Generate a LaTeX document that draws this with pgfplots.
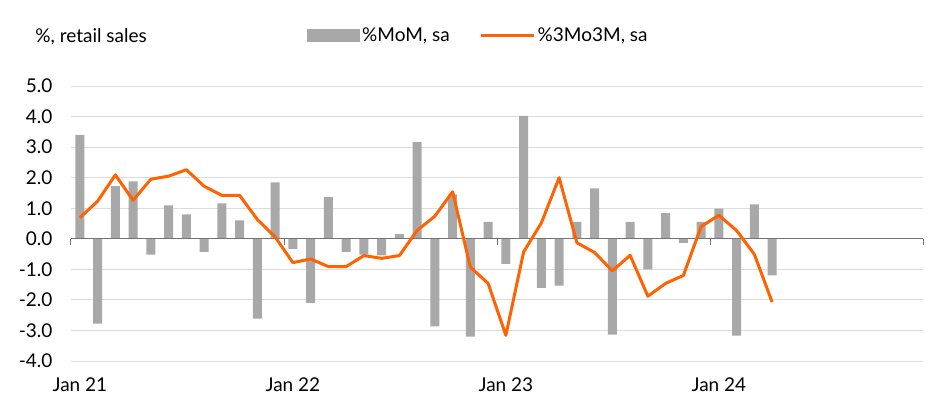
\documentclass[border=0pt]{standalone}
\usepackage{pgfplots}
\pgfplotsset{compat=1.18}
\usepackage{fontspec}
\setmainfont{Lato}
\definecolor{inggray}{HTML}{A8A8A8}
\definecolor{ingorange}{HTML}{FF6200}
\definecolor{gridgray}{HTML}{DCDCDC}
\begin{document}
\begin{tikzpicture}
\fontsize{19bp}{22bp}\selectfont
\begin{axis}[
  at={(0,0)}, anchor=south west,
  scale only axis, width=852bp, height=275bp,
  xmin=-0.5, xmax=47.5, ymin=-4, ymax=5,
  axis line style={draw=none},
  ytick={-4,-3,-2,-1,0,1,2,3,4,5},
  yticklabels={-4.0,-3.0,-2.0,-1.0,0.0,1.0,2.0,3.0,4.0,5.0},
  ymajorgrids, grid style={gridgray, line width=1bp},
  major tick length=0pt,
  xtick={0,12,24,36}, xticklabels={Jan 21,Jan 22,Jan 23,Jan 24},
  xticklabel style={font=\fontsize{19bp}{22bp}\selectfont, anchor=north, yshift=-10bp},
  yticklabel style={font=\fontsize{19bp}{22bp}\selectfont, anchor=east, xshift=-12bp},
  clip=false,
  legend style={at={(236bp,325bp)}, anchor=west, draw=none, fill=none,
    legend columns=2, inner sep=0pt,
    font=\fontsize{19bp}{22bp}\selectfont,
    /tikz/every even column/.append style={column sep=28bp}},
  legend cell align=left,
]
\addplot[ybar, bar width=0.5, fill=inggray, draw=none,
  legend image code/.code={\fill[inggray] (0bp,-6.5bp) rectangle (53bp,6.5bp);}]
  coordinates {
  (0,3.4) (1,-2.78) (2,1.72) (3,1.88) (4,-0.52) (5,1.09) (6,0.80) (7,-0.43)
  (8,1.16) (9,0.60) (10,-2.61) (11,1.85) (12,-0.33) (13,-2.10) (14,1.36) (15,-0.43)
  (16,-0.52) (17,-0.54) (18,0.15) (19,3.16) (20,-2.87) (21,1.45) (22,-3.2) (23,0.55)
  (24,-0.82) (25,4.02) (26,-1.61) (27,-1.53) (28,0.55) (29,1.65) (30,-3.14) (31,0.55)
  (32,-1.0) (33,0.84) (34,-0.13) (35,0.55) (36,0.99) (37,-3.17) (38,1.13) (39,-1.20)
  };
\addlegendentry{\%MoM, sa}
\draw[gray!90!black, line width=1bp] (axis cs:-0.5,0) -- (axis cs:47.5,0);
\pgfplotsinvokeforeach{-0.5,11.5,23.5,35.5,47.5}{
  \draw[gray!90!black, line width=1bp] (axis cs:#1,0) -- ([yshift=-6bp]axis cs:#1,0);
}
\addplot[ingorange, line width=3bp, line join=round,
  legend image code/.code={\draw[ingorange, line width=3bp] (0bp,0bp) -- (53bp,0bp);}]
  coordinates {
  (0,0.69) (1,1.23) (2,2.09) (3,1.26) (4,1.95) (5,2.05) (6,2.26) (7,1.72)
  (8,1.42) (9,1.42) (10,0.63) (11,0.06) (12,-0.78) (13,-0.66) (14,-0.91) (15,-0.91)
  (16,-0.55) (17,-0.64) (18,-0.55) (19,0.27) (20,0.74) (21,1.54) (22,-0.93) (23,-1.46)
  (24,-3.16) (25,-0.43) (26,0.52) (27,2.0) (28,-0.13) (29,-0.45) (30,-1.05) (31,-0.54)
  (32,-1.88) (33,-1.46) (34,-1.20) (35,0.40) (36,0.77) (37,0.27) (38,-0.51) (39,-2.07)
  };
\addlegendentry{\%3Mo3M, sa}
\node[anchor=west, inner sep=0pt] at (axis description cs:-0.042,1.18) {\%, retail sales};
\end{axis}
\pgfresetboundingbox
\useasboundingbox (-71bp,-56bp) rectangle (881bp,361bp);
\end{tikzpicture}
\end{document}
